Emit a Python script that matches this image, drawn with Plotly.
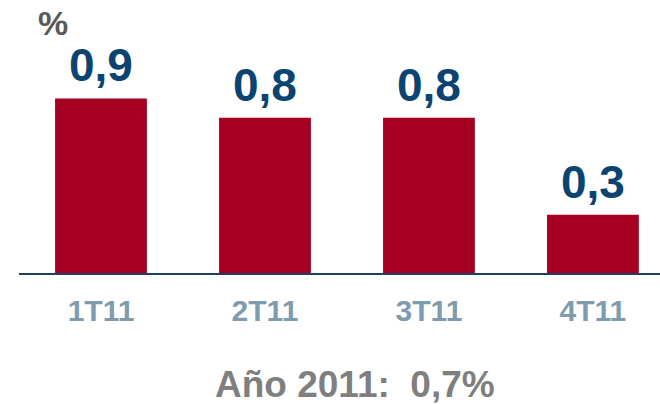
import plotly.graph_objects as go

categories = ["1T11", "2T11", "3T11", "4T11"]
values = [0.9, 0.8, 0.8, 0.3]
value_labels = ["0,9", "0,8", "0,8", "0,3"]
unit_label = "%"
footer = "Año 2011:\u00a0 0,7%"

FONT = "Liberation Sans, Arial, sans-serif"

L, T, B = 19, 20, 131
PW, PH = 660 - L, 404 - T - B

def px_x(x):
    return (x - L) / PW

def px_y(y):
    return (404 - B - y) / PH

fig = go.Figure()
fig.add_trace(go.Bar(
    x=categories, y=values, width=0.56,
    marker=dict(color="#A50021", line=dict(width=0)),
    hoverinfo="skip",
))

for c, v, t in zip(categories, values, value_labels):
    fig.add_annotation(x=c, y=v, text="<b>%s</b>" % t, showarrow=False,
                       yanchor="bottom", yshift=5,
                       font=dict(family=FONT, size=46, color="#0B4470"))

fig.add_annotation(x=px_x(53), y=px_y(23), xref="paper", yref="paper",
                   text="<b>%s</b>" % unit_label, showarrow=False,
                   xanchor="center", yanchor="middle",
                   font=dict(family=FONT, size=34, color="#595959"))
fig.add_annotation(x=px_x(355), y=px_y(384), xref="paper", yref="paper",
                   text="<b>%s</b>" % footer, showarrow=False,
                   xanchor="center", yanchor="middle",
                   font=dict(family=FONT, size=37, color="#7F7F7F"))

fig.update_layout(
    width=660, height=404,
    margin=dict(l=L, r=0, t=T, b=B),
    plot_bgcolor="white", paper_bgcolor="white",
    showlegend=False,
    xaxis=dict(range=[-0.5, 3.409], showline=True, linecolor="#1F3F5F", linewidth=1.5,
               ticks="", showgrid=False, ticklabelstandoff=10,
               tickfont=dict(family=FONT, size=30, color="#7F9BB0", weight="bold")),
    yaxis=dict(range=[0, PH / 194], visible=False),
)
fig.write_html("out.html", config={"displayModeBar": False, "staticPlot": True})
with open("out.html", encoding="utf-8") as f:
    html = f.read()
html = html.replace("<head>", "<head><style>html,body{margin:0;padding:0;overflow:hidden;}</style>", 1)
with open("out.html", "w", encoding="utf-8") as f:
    f.write(html)
